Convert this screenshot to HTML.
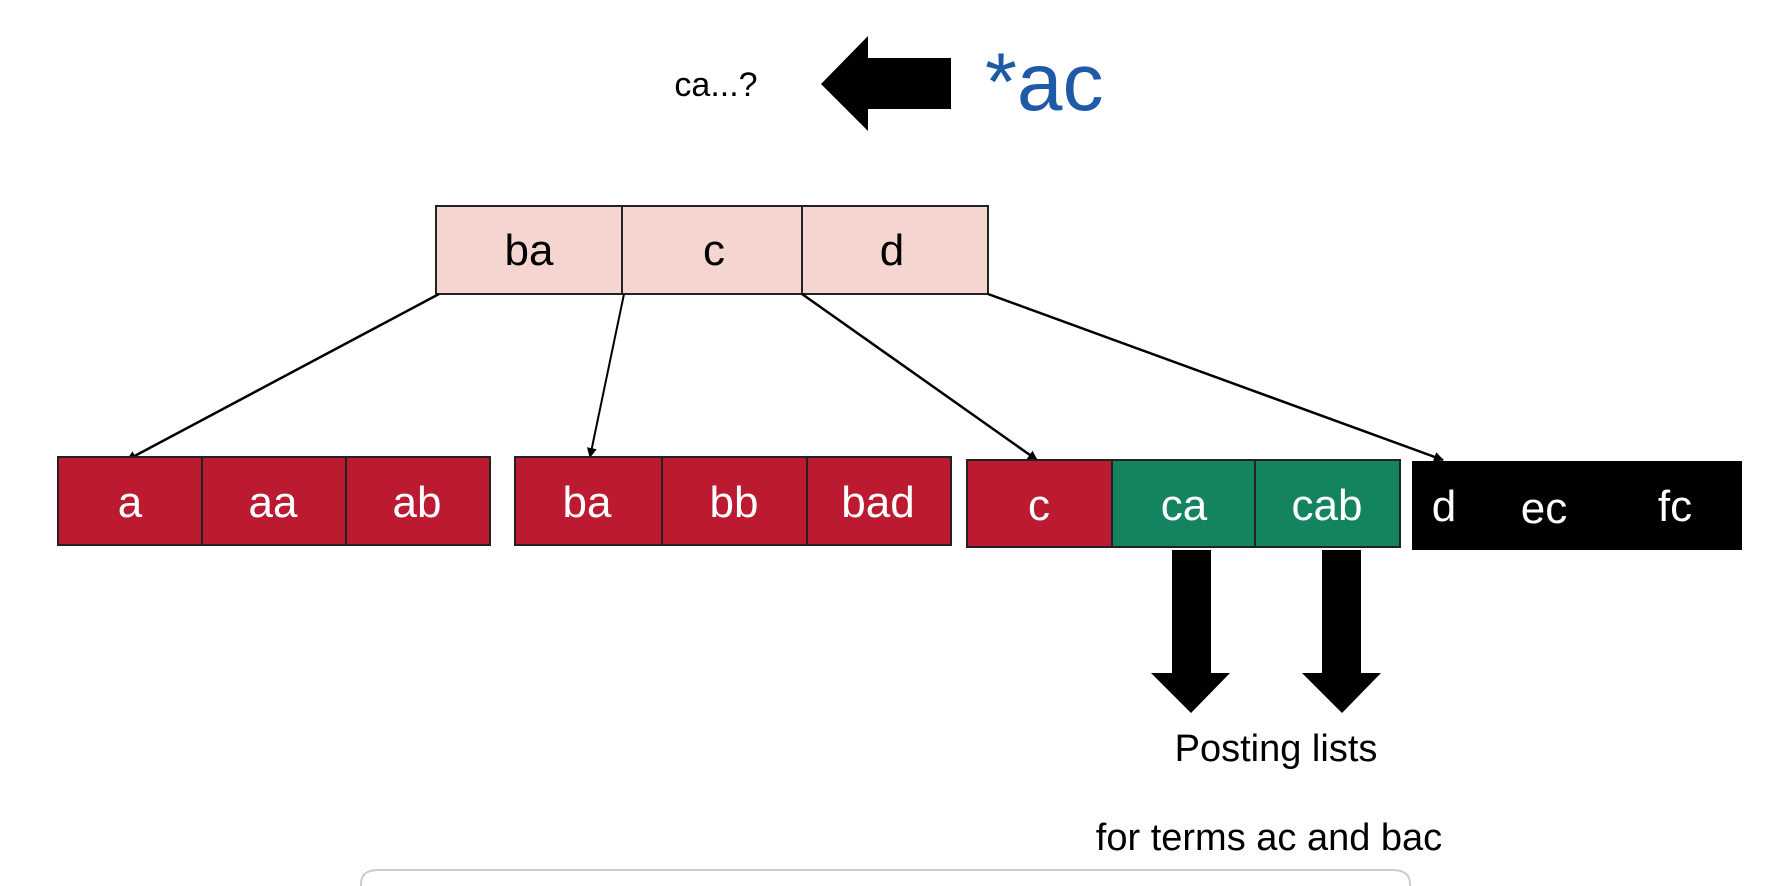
<!DOCTYPE html>
<html><head><meta charset="utf-8"><style>
html,body{margin:0;padding:0;background:#fff;}
body{width:1768px;height:886px;overflow:hidden;position:relative;font-family:"Liberation Sans",sans-serif;}
</style></head><body>
<svg width="1768" height="886" viewBox="0 0 1768 886" xmlns="http://www.w3.org/2000/svg" style="position:absolute;left:0;top:0">
<defs>
<marker id="ah" markerWidth="10" markerHeight="10" refX="9" refY="5" orient="auto" markerUnits="userSpaceOnUse">
<path d="M0,0 L10,5 L0,10 z" fill="#000"/></marker>
</defs>
<g font-family="Liberation Sans, sans-serif">
<text x="716" y="96" font-size="34" text-anchor="middle" fill="#000">ca...?</text>
<polygon points="821,84 868,36 868,58 951,58 951,109 868,109 868,131" fill="#000"/>
<text x="985" y="110" font-size="82" fill="#1f5aa6">*ac</text>

<rect x="436" y="206" width="552" height="88" fill="#f5d5cf" stroke="#222" stroke-width="2"/>
<line x1="622" y1="206" x2="622" y2="294" stroke="#222" stroke-width="2"/>
<line x1="802" y1="206" x2="802" y2="294" stroke="#222" stroke-width="2"/>
<g font-size="44" text-anchor="middle" fill="#000">
<text x="529" y="265">ba</text><text x="714" y="265">c</text><text x="892" y="265">d</text>
</g>

<line x1="439" y1="294" x2="127" y2="460" stroke="#000" stroke-width="2.5" marker-end="url(#ah)"/>
<line x1="624" y1="294" x2="590" y2="457" stroke="#000" stroke-width="2" marker-end="url(#ah)"/>
<line x1="802" y1="294" x2="1037" y2="460" stroke="#000" stroke-width="2.5" marker-end="url(#ah)"/>
<line x1="988" y1="294" x2="1443" y2="460" stroke="#000" stroke-width="2.5" marker-end="url(#ah)"/>

<g stroke="#222" stroke-width="2">
<rect x="58" y="457" width="432" height="88" fill="#bb1a31"/>
<line x1="202" y1="457" x2="202" y2="545"/><line x1="346" y1="457" x2="346" y2="545"/>
<rect x="515" y="457" width="436" height="88" fill="#bb1a31"/>
<line x1="662" y1="457" x2="662" y2="545"/><line x1="807" y1="457" x2="807" y2="545"/>
<rect x="967" y="460" width="145" height="87" fill="#bb1a31"/>
<rect x="1112" y="460" width="288" height="87" fill="#13845f"/>
<line x1="1255" y1="460" x2="1255" y2="547"/>
</g>
<rect x="1412" y="461" width="330" height="89" fill="#000"/>
<g font-size="44" text-anchor="middle" fill="#fff">
<text x="130" y="517">a</text><text x="273" y="517">aa</text><text x="417" y="517">ab</text>
<text x="587" y="517">ba</text><text x="734" y="517">bb</text><text x="878" y="517">bad</text>
<text x="1039" y="520">c</text><text x="1184" y="520">ca</text><text x="1327" y="520">cab</text>
<text x="1444" y="521">d</text><text x="1544" y="523">ec</text><text x="1675" y="521">fc</text>
</g>

<polygon points="1172,550 1211,550 1211,673 1230,673 1191,713 1151,673 1172,673" fill="#000"/>
<polygon points="1322,550 1361,550 1361,673 1381,673 1342,713 1302,673 1322,673" fill="#000"/>
<text x="1276" y="761" font-size="38" text-anchor="middle" fill="#000">Posting lists</text>
<text x="1269" y="850" font-size="38" text-anchor="middle" fill="#000">for terms ac and bac</text>
<path d="M361,886 L361,884 Q361,870 378,870 L1392,870 Q1410,870 1410,884 L1410,886" fill="none" stroke="#ccc" stroke-width="2"/>
</g>
</svg>
</body></html>
